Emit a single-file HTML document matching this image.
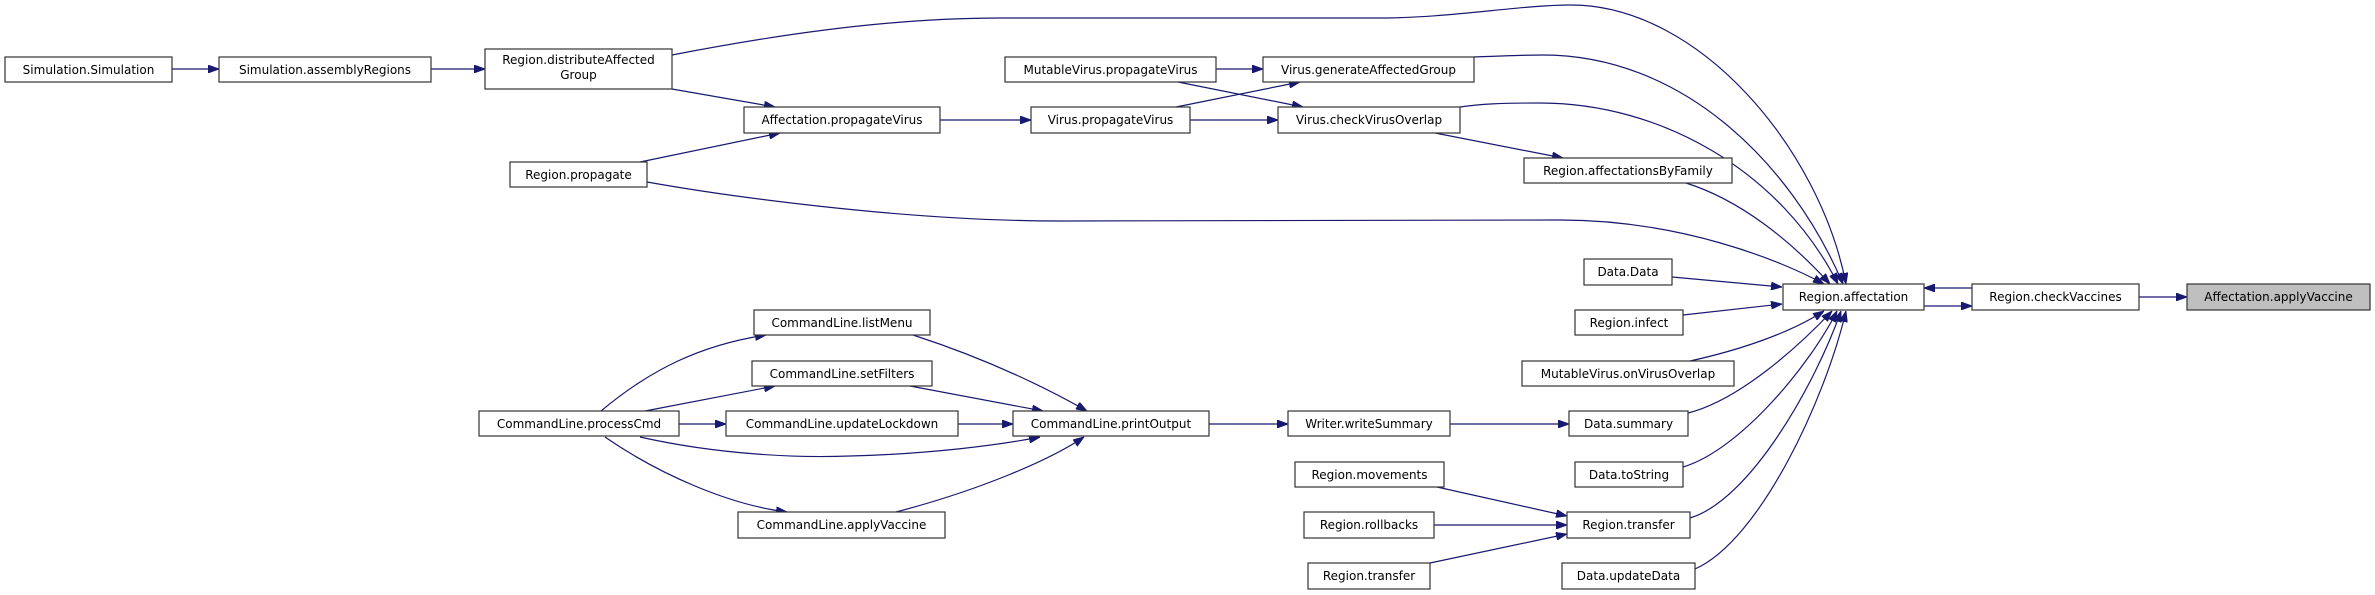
<!DOCTYPE html>
<html><head><meta charset="utf-8"><style>
html,body{margin:0;padding:0;background:#fff;}
svg{display:block;}
text{font-family:"DejaVu Sans","Liberation Sans",sans-serif;font-size:12px;fill:#000;}
.n{fill:#fff;stroke:#333;stroke-width:1.2;}
.e{fill:none;stroke:#191970;stroke-width:1.2;}
</style></head><body>
<svg width="2375" height="595" viewBox="0 0 2375 595" xmlns="http://www.w3.org/2000/svg">
<defs>
<marker id="a" viewBox="0 0 10 10" refX="10" refY="5" markerWidth="11" markerHeight="8" markerUnits="userSpaceOnUse" orient="auto" preserveAspectRatio="none">
<path d="M0,0 L10,5 L0,10 z" fill="#191970" stroke="#191970"/>
</marker>
</defs>
<g class="e" marker-end="url(#a)">
<path d="M172,69 L219,69"/>
<path d="M431,69 L485,69"/>
<path d="M672,89 L775,107"/>
<path d="M640,162 L780,133"/>
<path d="M940,120 L1031,120"/>
<path d="M1176,107 L1300,82"/>
<path d="M1216,69 L1263,69"/>
<path d="M1178,82 L1303,107"/>
<path d="M1190,120 L1278,120"/>
<path d="M1435,133 L1563,158"/>
<path d="M672,55 C760,38 880,18 1000,18 L1380,18 C1450,18 1520,5 1571,5 C1700,5 1820,150 1846,284"/>
<path d="M1474,57 C1500,56 1520,55 1543,55 C1680,55 1790,160 1843,284"/>
<path d="M1460,107 C1480,104 1500,103 1540,103 C1660,103 1780,170 1838,284"/>
<path d="M1686,183 C1740,200 1790,240 1830,284"/>
<path d="M647,182 C720,195 900,221 1060,221 L1560,220 C1680,220 1780,260 1824,284"/>
<path d="M1672,277 L1782,287"/>
<path d="M1683,315 L1782,304"/>
<path d="M1690,361 C1740,350 1790,333 1824,311"/>
<path d="M1688,413 C1740,400 1800,345 1832,311"/>
<path d="M1683,467 C1740,450 1810,365 1837,311"/>
<path d="M1690,518 C1750,500 1815,385 1841,311"/>
<path d="M1695,569 C1760,540 1825,400 1846,311"/>
<path d="M1972,288 L1924,288"/>
<path d="M1924,306 L1972,306"/>
<path d="M2139,297 L2187,297"/>
<path d="M601,411 C650,370 700,345 766,335"/>
<path d="M645,411 L775,386"/>
<path d="M679,424 L726,424"/>
<path d="M640,437 C720,455 800,458 850,456 C930,454 1000,445 1040,437"/>
<path d="M605,437 C660,475 730,505 787,512"/>
<path d="M913,335 C990,360 1050,390 1087,411"/>
<path d="M910,386 L1043,411"/>
<path d="M958,424 L1013,424"/>
<path d="M896,512 C980,490 1050,460 1084,437"/>
<path d="M1209,424 L1288,424"/>
<path d="M1450,424 L1569,424"/>
<path d="M1437,487 L1567,516"/>
<path d="M1434,525 L1567,525"/>
<path d="M1430,563 L1567,534"/>
</g>
<g>
<rect class="n" x="5" y="57" width="167" height="25"/><text x="88.5" y="74" text-anchor="middle">Simulation.Simulation</text>
<rect class="n" x="219" y="57" width="212" height="25"/><text x="325" y="74" text-anchor="middle">Simulation.assemblyRegions</text>
<rect class="n" x="485" y="49" width="187" height="40"/><text x="578.5" y="64" text-anchor="middle">Region.distributeAffected</text><text x="578.5" y="79" text-anchor="middle">Group</text>
<rect class="n" x="744" y="107" width="196" height="26"/><text x="842" y="124" text-anchor="middle">Affectation.propagateVirus</text>
<rect class="n" x="510" y="162" width="137" height="25"/><text x="578.5" y="179" text-anchor="middle">Region.propagate</text>
<rect class="n" x="1005" y="57" width="211" height="25"/><text x="1110.5" y="74" text-anchor="middle">MutableVirus.propagateVirus</text>
<rect class="n" x="1263" y="57" width="211" height="25"/><text x="1368.5" y="74" text-anchor="middle">Virus.generateAffectedGroup</text>
<rect class="n" x="1031" y="107" width="159" height="26"/><text x="1110.5" y="124" text-anchor="middle">Virus.propagateVirus</text>
<rect class="n" x="1278" y="107" width="182" height="26"/><text x="1369" y="124" text-anchor="middle">Virus.checkVirusOverlap</text>
<rect class="n" x="1524" y="158" width="208" height="25"/><text x="1628" y="175" text-anchor="middle">Region.affectationsByFamily</text>
<rect class="n" x="1584" y="259" width="88" height="26"/><text x="1628" y="276" text-anchor="middle">Data.Data</text>
<rect class="n" x="1575" y="310" width="108" height="25"/><text x="1629" y="327" text-anchor="middle">Region.infect</text>
<rect class="n" x="1522" y="361" width="212" height="25"/><text x="1628" y="378" text-anchor="middle">MutableVirus.onVirusOverlap</text>
<rect class="n" x="1569" y="411" width="119" height="25"/><text x="1628.5" y="428" text-anchor="middle">Data.summary</text>
<rect class="n" x="1575" y="462" width="108" height="25"/><text x="1629" y="479" text-anchor="middle">Data.toString</text>
<rect class="n" x="1567" y="512" width="123" height="26"/><text x="1628.5" y="529" text-anchor="middle">Region.transfer</text>
<rect class="n" x="1562" y="563" width="133" height="26"/><text x="1628.5" y="580" text-anchor="middle">Data.updateData</text>
<rect class="n" x="1783" y="284" width="141" height="26"/><text x="1853.5" y="301" text-anchor="middle">Region.affectation</text>
<rect class="n" x="1972" y="284" width="167" height="26"/><text x="2055.5" y="301" text-anchor="middle">Region.checkVaccines</text>
<rect x="2187" y="284" width="183" height="26" fill="#bfbfbf" stroke="#333" stroke-width="1.2"/><text x="2278.5" y="301" text-anchor="middle">Affectation.applyVaccine</text>
<rect class="n" x="754" y="310" width="176" height="25"/><text x="842" y="327" text-anchor="middle">CommandLine.listMenu</text>
<rect class="n" x="752" y="361" width="180" height="25"/><text x="842" y="378" text-anchor="middle">CommandLine.setFilters</text>
<rect class="n" x="479" y="411" width="200" height="25"/><text x="579" y="428" text-anchor="middle">CommandLine.processCmd</text>
<rect class="n" x="726" y="411" width="232" height="25"/><text x="842" y="428" text-anchor="middle">CommandLine.updateLockdown</text>
<rect class="n" x="1013" y="411" width="196" height="25"/><text x="1111" y="428" text-anchor="middle">CommandLine.printOutput</text>
<rect class="n" x="738" y="512" width="207" height="26"/><text x="841.5" y="529" text-anchor="middle">CommandLine.applyVaccine</text>
<rect class="n" x="1288" y="411" width="162" height="25"/><text x="1369" y="428" text-anchor="middle">Writer.writeSummary</text>
<rect class="n" x="1295" y="462" width="149" height="25"/><text x="1369.5" y="479" text-anchor="middle">Region.movements</text>
<rect class="n" x="1304" y="512" width="130" height="26"/><text x="1369" y="529" text-anchor="middle">Region.rollbacks</text>
<rect class="n" x="1308" y="563" width="122" height="26"/><text x="1369" y="580" text-anchor="middle">Region.transfer</text>
</g>
</svg>
</body></html>
